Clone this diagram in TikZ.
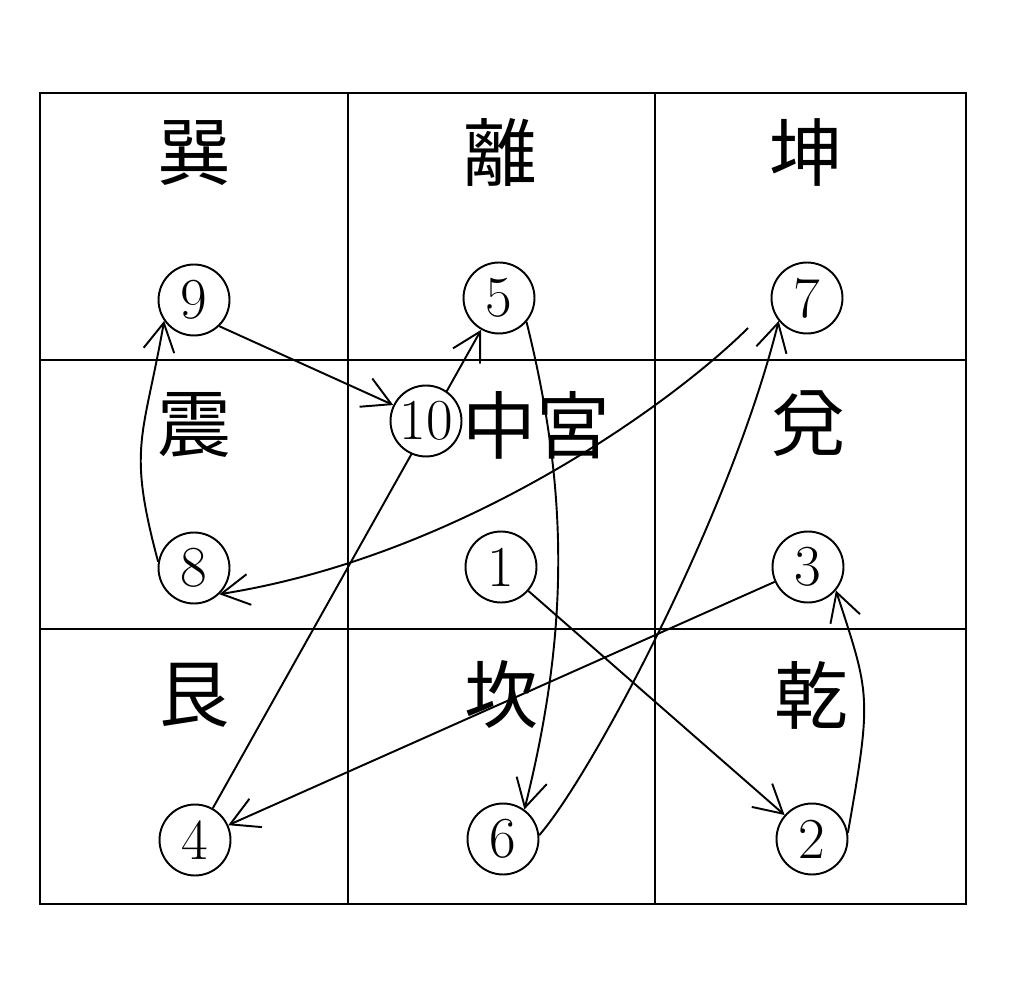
\documentclass[tikz,border=0pt]{standalone}
\usepackage{fontspec}
\newfontfamily\cjk{Noto Sans CJK JP}
\usetikzlibrary{arrows.meta,backgrounds}
\begin{document}
\begin{tikzpicture}[x=0.02cm,y=0.02cm,line width=1.1pt,>={Straight Barb[length=0.56cm,width=0.62cm]},
	num/.style={circle,draw,fill=white,inner sep=0pt,minimum size=1.42cm,font=\fontsize{33}{33}\selectfont},
	gua/.style={font=\cjk\fontsize{42}{42}\selectfont},
	arr/.style={->,line width=1.1pt}]
	\useasboundingbox (0,0) rectangle (1024,988);
	% nine palaces
	\draw (40,84) rectangle (966,895);
	\draw (348,84)--(348,895) (655,84)--(655,895) (40,628)--(966,628) (40,359)--(966,359);
	\node[gua] (xun) at (194,835) {巽};
	\node[gua] (li) at (500,835) {離};
	\node[gua] (kun) at (806,835) {坤};
	\node[gua] (zhen) at (194,563) {震};
	\node[gua] (zg) at (536,563) {中宮};
	\node[gua] (dui) at (808,564) {兌};
	\node[gua] (gen) at (194,293) {艮};
	\node[gua] (kan) at (501,293) {坎};
	\node[gua] (qian) at (811,293) {乾};
	% numbers
	\node[num] (n9) at (194,688) {9};
	\node[num] (n5) at (499,690) {5};
	\node[num] (n7) at (807,690) {7};
	\node[num] (n10) at (426,567) {10};
	\node[num] (n8) at (194,420) {8};
	\node[num] (n1) at (501,421) {1};
	\node[num] (n3) at (808,421) {3};
	\node[num] (n4) at (195,148) {4};
	\node[num] (n6) at (503,149) {6};
	\node[num] (n2) at (812,149) {2};
	\coordinate (t7) at (748,660);
	\begin{scope}[on background layer]
		\draw[arr] (n1)--(n2);
		\draw[arr] (n2.10) .. controls +(80:140) and +(-72:110) .. (n3.-40);
		\draw[arr] (n3)--(n4);
		\draw[arr] (n4)--(n5);
		\draw[arr] (n5.-41) .. controls +(-76:180) and +(76:180) .. (n6.54);
		\draw[arr] (n6.6) .. controls +(49:80) and +(-104:200) .. (n7.-141);
		\draw[arr] (t7) .. controls +(-135:100) and +(9:250) .. (n8.-46);
		\draw[arr] (n8.170) .. controls +(105:120) and +(-100:120) .. (n9.-145);
		\draw[arr] (n9.-46)--(n10.154);
	\end{scope}
\end{tikzpicture}
\end{document}
